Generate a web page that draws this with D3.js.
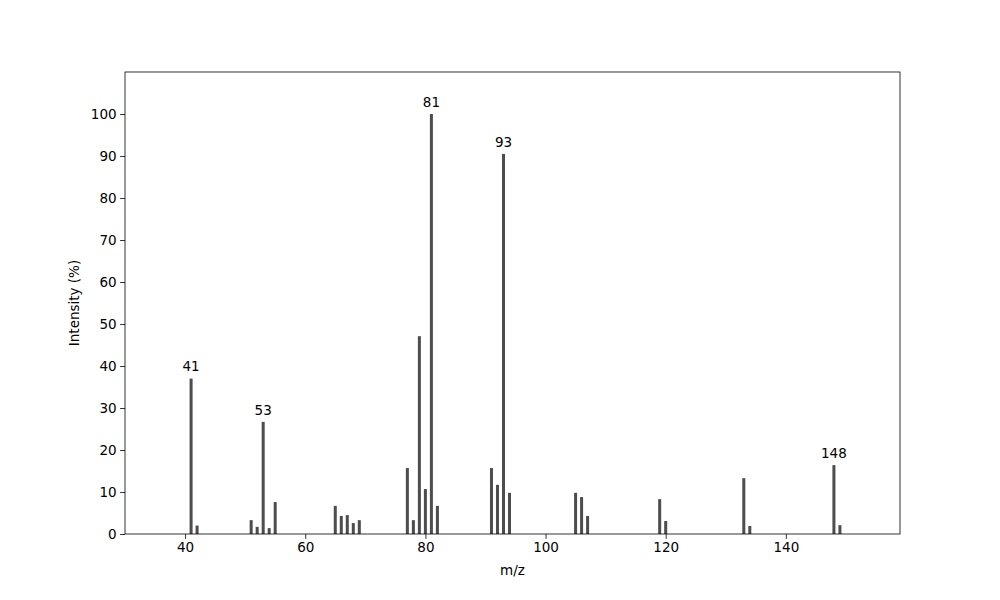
<!DOCTYPE html>
<html>
<head>
<meta charset="utf-8">
<script src="https://cdn.jsdelivr.net/npm/d3@7"></script>
<style>
  body { margin: 0; background: #fff; }
  text { font-family: "DejaVu Sans", sans-serif; }
</style>
</head>
<body>
<div id="chart"></div>
<script>
// peaks
var mz = [41, 42, 51, 52, 53, 54, 55, 65, 66, 67, 68, 69, 77, 78, 79, 80, 81, 82,
          91, 92, 93, 94, 105, 106, 107, 119, 120, 133, 134, 148, 149];
var intensity = [37, 2, 3.3, 1.7, 26.7, 1.4, 7.6, 6.7, 4.3, 4.5, 2.6, 3.3, 15.7, 3.3, 47.1, 10.7, 100, 6.7,
                 15.7, 11.7, 90.5, 9.8, 9.8, 8.8, 4.3, 8.3, 3.1, 13.3, 1.9, 16.4, 2.1];
var labelled = [41, 53, 81, 93, 148];
var xTicks = [40, 60, 80, 100, 120, 140];
var yTicks = [0, 10, 20, 30, 40, 50, 60, 70, 80, 90, 100];

var width = 1000, height = 600;
var margin = { top: 72, right: 100, bottom: 66, left: 125 };

var svg = d3.select("#chart")
    .append("svg")
    .attr("width", width)
    .attr("height", height);

var x = d3.scaleLinear().domain([30, 159]).range([margin.left, width - margin.right]);
var y = d3.scaleLinear().domain([0, 110]).range([height - margin.bottom, margin.top]);

var data = mz.map(function (m, i) { return { mz: m, v: intensity[i] }; });
var barW = 0.5;

svg.append("g")
    .selectAll("rect")
    .data(data)
    .enter().append("rect")
    .attr("x", function (d) { return x(d.mz - barW / 2); })
    .attr("width", function (d) { return x(d.mz + barW / 2) - x(d.mz - barW / 2); })
    .attr("y", function (d) { return y(d.v); })
    .attr("height", function (d) { return y(0) - y(d.v); })
    .attr("fill", "#4d4d4d");

// peak labels
svg.append("g")
    .selectAll("text")
    .data(data.filter(function (d) { return labelled.indexOf(d.mz) >= 0; }))
    .enter().append("text")
    .attr("x", function (d) { return x(d.mz); })
    .attr("y", function (d) { return y(d.v + 1) - 3; })
    .attr("text-anchor", "middle")
    .attr("font-size", "13.5px")
    .attr("fill", "#000")
    .text(function (d) { return d.mz; });

var xAxis = svg.append("g")
    .attr("transform", "translate(0," + y(0) + ")")
    .call(d3.axisBottom(x).tickValues(xTicks).tickSize(4.9).tickPadding(3.5).tickSizeOuter(0));
var yAxis = svg.append("g")
    .attr("transform", "translate(" + x(30) + ",0)")
    .call(d3.axisLeft(y).tickValues(yTicks).tickSize(4.9).tickPadding(3.5).tickSizeOuter(0));

[xAxis, yAxis].forEach(function (a) {
    a.select(".domain").remove();
    a.selectAll("line").attr("stroke", "#000").attr("stroke-width", 0.8);
    a.selectAll("text").attr("font-size", "13.5px").attr("fill", "#000")
        .attr("font-family", "DejaVu Sans, sans-serif");
});

// frame
svg.append("rect")
    .attr("x", x(30))
    .attr("y", y(110))
    .attr("width", x(159) - x(30))
    .attr("height", y(0) - y(110))
    .attr("fill", "none")
    .attr("stroke", "#000")
    .attr("stroke-width", 0.8);

svg.append("text")
    .attr("x", (x(30) + x(159)) / 2)
    .attr("y", 575)
    .attr("text-anchor", "middle")
    .attr("font-size", "13.5px")
    .text("m/z");

svg.append("text")
    .attr("transform", "translate(79," + (y(0) + y(110)) / 2 + ") rotate(-90)")
    .attr("text-anchor", "middle")
    .attr("font-size", "13.5px")
    .text("Intensity (%)");
</script>
</body>
</html>
